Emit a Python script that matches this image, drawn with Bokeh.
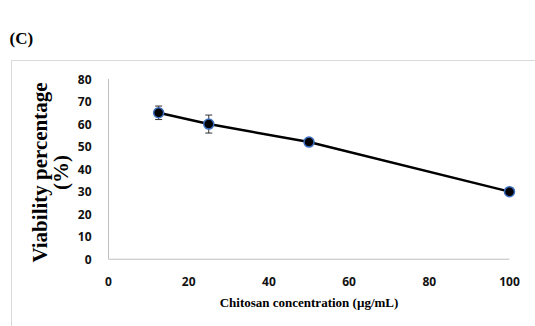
from bokeh.plotting import figure
from bokeh.models import (ColumnDataSource, Whisker, Title, FixedTicker, Range1d,
                          InlineStyleSheet)
from bokeh.embed import file_html
from bokeh.resources import INLINE

# ---- data ----
concentration = [12.5, 25, 50, 100]
viability = [65, 60, 52, 30]
error = [3, 4, 1.5, 1]
x_ticks = [0, 20, 40, 60, 80, 100]
y_ticks = [0, 10, 20, 30, 40, 50, 60, 70, 80]
panel_label = "(C)"
x_title = "Chitosan concentration (µg/mL)"
y_title = "Viability percentage\n(%)"

src = ColumnDataSource(dict(
    x=concentration, y=viability,
    lo=[v - e for v, e in zip(viability, error)],
    hi=[v + e for v, e in zip(viability, error)],
))

W, H = 535, 326
p = figure(width=W, height=H, output_backend="svg", toolbar_location=None,
           x_range=Range1d(-2, 102), y_range=Range1d(-5, 82),
           min_border_left=100, min_border_right=18,
           min_border_top=74, min_border_bottom=56)
p.outline_line_color = None
p.xgrid.visible = False
p.ygrid.visible = False
p.background_fill_color = "white"
p.border_fill_color = "white"

tick_font = "Open Sans"
serif = "Liberation Serif"
for ax, ticks in ((p.xaxis, x_ticks), (p.yaxis, y_ticks)):
    ax.ticker = FixedTicker(ticks=ticks)
    ax.axis_line_color = None
    ax.major_tick_line_color = None
    ax.minor_tick_line_color = None
    ax.major_label_text_font = tick_font
    ax.major_label_text_font_style = "bold"
    ax.major_label_text_font_size = "12px"
    ax.major_label_text_color = "#111111"
    ax.axis_label_text_font = serif
    ax.axis_label_text_font_style = "bold"
    ax.axis_label_text_color = "black"
p.xaxis.major_label_standoff = 0
p.yaxis.major_label_standoff = 3
p.xaxis.axis_label = x_title
p.xaxis.axis_label_text_font_size = "13px"
p.xaxis.axis_label_standoff = 6
p.yaxis.axis_label = y_title
p.yaxis.axis_label_text_font_size = "21px"
p.yaxis.axis_label_text_line_height = 0.85
p.yaxis.axis_label_standoff = 2

# axis lines (grey), spanning the tick range
p.segment(x0=[x_ticks[0]], y0=[y_ticks[0]], x1=[x_ticks[-1]], y1=[y_ticks[0]],
          line_color="#BFBFBF", line_width=1)
p.segment(x0=[x_ticks[0]], y0=[y_ticks[0]], x1=[x_ticks[0]], y1=[y_ticks[-1]],
          line_color="#BFBFBF", line_width=1)

# series
p.line("x", "y", source=src, line_color="black", line_width=2.5)
w = Whisker(source=src, base="x", lower="lo", upper="hi",
            line_color="#333333", line_width=1)
w.upper_head.size = 7
w.lower_head.size = 7
w.upper_head.line_color = "#333333"
w.lower_head.line_color = "#333333"
p.add_layout(w)
p.scatter("x", "y", source=src, size=10, fill_color="black",
          line_color="#3F6FC0", line_width=1.5)

# panel label
t = Title(text=panel_label, align="left", offset=-91, standoff=53,
          text_font=serif, text_font_style="bold", text_font_size="17px",
          text_color="black")
p.add_layout(t, "above")

# outer light-grey frame around the chart area
p.stylesheets = [InlineStyleSheet(css=(
    ":host::after{content:'';position:absolute;left:11px;top:60px;"
    "width:540px;height:280px;border:1.5px solid #D9D9D9;"
    "pointer-events:none;box-sizing:border-box;}"
))]

open("out.html", "w").write(file_html(p, INLINE))
